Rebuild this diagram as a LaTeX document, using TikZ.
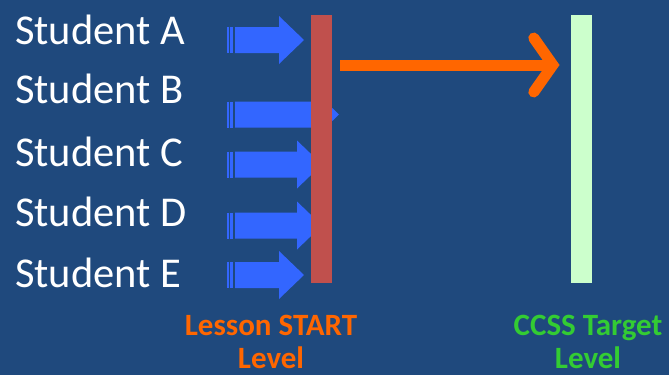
\documentclass[tikz,border=0pt]{standalone}
\usepackage{fontspec}
\setmainfont{Carlito}
\usetikzlibrary{calc}

\definecolor{slideblue}{HTML}{1F497D}
\definecolor{pushblue}{HTML}{3366FF}
\definecolor{startred}{HTML}{C0504D}
\definecolor{targetgreen}{HTML}{CCFFCC}
\definecolor{gaporange}{HTML}{FF6600}
\definecolor{labelgreen}{HTML}{33CC33}

% striped block arrow: centre y, start of the head (x)
\newcommand{\pusharrow}[2]{%
  \fill[pushblue] (227,#1-13) rectangle (229,#1+13);
  \fill[pushblue] (230,#1-13) rectangle (233,#1+13);
  \fill[pushblue] (235,#1-13) -- (#2,#1-13) -- (#2,#1-24) -- (#2+25,#1)
    -- (#2,#1+24) -- (#2,#1+13) -- (235,#1+13) -- cycle;
}

\tikzset{
  student/.style={anchor=base west, text=white, font=\fontsize{42.5}{42.5}\selectfont, inner sep=0pt},
  levelbar/.style={minimum width=21pt, minimum height=268pt, inner sep=0pt},
  caption/.style={align=center, font=\bfseries\fontsize{31}{33}\selectfont, inner sep=0pt, anchor=base},
  gap/.style={gaporange, line width=11pt},
  gaphead/.style={gaporange, line width=11pt, line cap=round, line join=miter}
}

\begin{document}
\begin{tikzpicture}[x=1pt, y=-1pt]
  \fill[slideblue] (0,0) rectangle (669,375);
  \useasboundingbox (0,0) rectangle (669,375);

  % students
  \foreach \who/\y in {A/44, B/103, C/166, D/226, E/287}
    \node[student] (stu\who) at (15,\y) {Student \who};

  % arrows pushing against the start level
  \foreach \y/\hx in {40/279, 114.5/314, 164.5/297, 225.5/297, 275/279}
    {\pusharrow{\y}{\hx}}

  % the two levels
  \node[levelbar, fill=startred] (start) at (321.5,149) {};
  \node[levelbar, fill=targetgreen] (target) at (581.5,149) {};

  % gap between them
  \coordinate (gapfrom) at ($(start.east |- 0,65)+(8,0)$);
  \coordinate (gapto) at ($(target.west |- 0,65)+(-18,0)$);
  \draw[gap] (gapfrom) -- (gapto);
  \draw[gaphead] ($(gapto)+(-19,-27)$) -- (gapto) -- ($(gapto)+(-19,27)$);

  % captions (anchored on the last line)
  \node[caption, text=gaporange] (startlbl) at (271,368) {Lesson START\\Level};
  \node[caption, text=labelgreen] (targetlbl) at (588,368) {CCSS Target\\Level};
\end{tikzpicture}
\end{document}
